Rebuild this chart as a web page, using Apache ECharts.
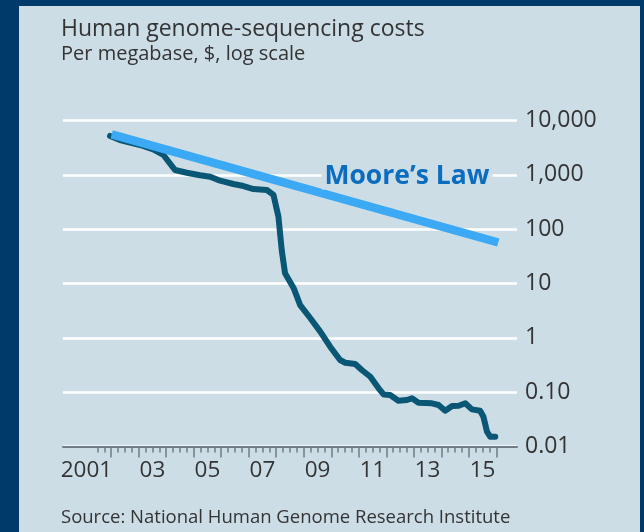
<!DOCTYPE html>
<html>
<head>
<meta charset="utf-8">
<script src="https://cdn.jsdelivr.net/npm/echarts@6/dist/echarts.min.js"></script>
<style>
  html, body { margin: 0; padding: 0; background: #003a6b; }
  #chart { width: 644px; height: 532px; }
</style>
</head>
<body>
<div id="chart"></div>
<script>
// ---- data ----
const costYears = [2001.96, 2002.32, 2003.05, 2003.53, 2003.90, 2004.32, 2004.75, 2005.23, 2005.60, 2005.96,
  2006.44, 2006.81, 2007.17, 2007.66, 2007.90, 2008.08, 2008.20, 2008.32, 2008.63, 2008.87,
  2009.24, 2009.60, 2009.96, 2010.32, 2010.51, 2010.87, 2011.11, 2011.42, 2011.72, 2011.90,
  2012.14, 2012.44, 2012.75, 2012.93, 2013.17, 2013.66, 2013.90, 2014.14, 2014.39, 2014.63,
  2014.87, 2015.11, 2015.41, 2015.53, 2015.66, 2015.78, 2015.96];
const costValues = [5190, 4375, 3540, 2950, 2317, 1227, 1094, 980, 924, 780,
  678, 622, 548, 526, 426, 169, 41, 15.4, 8.3, 4.0,
  2.29, 1.30, 0.687, 0.391, 0.348, 0.330, 0.256, 0.192, 0.118, 0.091,
  0.0887, 0.0697, 0.0718, 0.077, 0.064, 0.0624, 0.058, 0.0456, 0.0556, 0.0563,
  0.0624, 0.0483, 0.0456, 0.0353, 0.0187, 0.0151, 0.0151];
const mooreYears = [2002.02, 2016.07];
const mooreValues = [5570, 56.9];
const mooreLabel = { year: 2012.75, value: 950, text: 'Moore\u2019s Law' };

const xLabelYears = [2001.5, 2003.5, 2005.5, 2007.5, 2009.5, 2011.5, 2013.5, 2015.5];
const xLabelTexts = ['2001', '03', '05', '07', '09', '11', '13', '15'];
const yTickValues = [0.01, 0.1, 1, 10, 100, 1000, 10000];
const yTickLabels = ['0.01', '0.10', '1', '10', '100', '1,000', '10,000'];

const titleText = 'Human genome-sequencing costs';
const subtitleText = 'Per megabase, $, log scale';
const sourceText = 'Source: National Human Genome Research Institute';

// ---- derived tick positions ----
const yearTicks = [];
for (let y = 2002; y <= 2016; y++) yearTicks.push(y);
const quarterTicks = [];
for (let q = 2001.5; q < 2016; q += 0.25) {
  if (Math.abs(q - Math.round(q)) > 0.01) quarterTicks.push(q);
}

const FONT = 'Open Sans';
const TXT = '#333333';
const PANEL = '#cddde6';

const chart = echarts.init(document.getElementById('chart'));
chart.setOption({
  backgroundColor: '#003a6b',
  animation: false,
  graphic: [
    { type: 'rect', z: -100, silent: true, shape: { x: 19, y: 6, width: 621, height: 526 },
      style: { fill: PANEL } }
  ],
  title: [
    { text: titleText, left: 61, top: 18, padding: 0,
      textStyle: { fontFamily: FONT, fontSize: 23, fontWeight: 'normal', color: TXT } },
    { text: subtitleText, left: 61, top: 44, padding: 0,
      textStyle: { fontFamily: FONT, fontSize: 20, fontWeight: 'normal', color: TXT } },
    { text: sourceText, left: 61, top: 508, padding: 0,
      textStyle: { fontFamily: FONT, fontSize: 18.5, fontWeight: 'normal', color: TXT } }
  ],
  grid: { left: 63, right: 127, top: 120.5, bottom: 85.5, containLabel: false },
  xAxis: [
    {
      type: 'value', min: 2000.25, max: 2016.75,
      axisLine: { show: true, lineStyle: { color: '#6f7c85', width: 2 } },
      axisTick: { show: true, customValues: yearTicks, length: 11, lineStyle: { color: '#6f7c85', width: 1.5 } },
      axisLabel: {
        show: true, customValues: xLabelYears, margin: 13,
        fontFamily: FONT, fontSize: 22.5, color: TXT,
        formatter: function (v) {
          const i = xLabelYears.findIndex(function (t) { return Math.abs(t - v) < 1e-6; });
          const t = i >= 0 ? xLabelTexts[i] : '';
          return i === 0 ? '{s|' + t + '}' : t;
        },
        rich: { s: { fontFamily: FONT, fontSize: 22.5, color: TXT, padding: [0, 22, 0, 0] } }
      },
      splitLine: { show: false }
    },
    {
      type: 'value', min: 2000.25, max: 2016.75, position: 'bottom',
      axisLine: { show: false },
      axisTick: { show: true, customValues: quarterTicks, length: 6, lineStyle: { color: '#6f7c85', width: 1.5 } },
      axisLabel: { show: false },
      splitLine: { show: false }
    }
  ],
  yAxis: {
    type: 'log', logBase: 10, min: 0.01, max: 10000, position: 'right',
    axisLine: { show: false },
    axisTick: { show: false },
    axisLabel: {
      margin: 8, fontFamily: FONT, fontSize: 23, color: TXT,
      formatter: function (v) {
        const i = yTickValues.findIndex(function (t) { return Math.abs(Math.log10(t) - Math.log10(v)) < 1e-6; });
        return i >= 0 ? yTickLabels[i] : '';
      }
    },
    splitLine: { show: true, lineStyle: { color: '#ffffff', width: 2.5 } }
  },
  series: [
    {
      type: 'line', xAxisIndex: 0, showSymbol: false, symbol: 'none',
      data: costYears.map(function (y, i) { return [y, costValues[i]]; }),
      lineStyle: { color: '#0a5675', width: 6, cap: 'round', join: 'round' },
      z: 3
    },
    {
      type: 'line', xAxisIndex: 0, showSymbol: false, symbol: 'none',
      data: mooreYears.map(function (y, i) { return [y, mooreValues[i]]; }),
      lineStyle: { color: '#3ca9f4', width: 8.5, cap: 'butt' },
      z: 4,
      markPoint: {
        symbol: 'circle', symbolSize: 0, silent: true,
        data: [{ coord: [mooreLabel.year, mooreLabel.value] }],
        label: {
          show: true, position: 'inside', formatter: mooreLabel.text,
          fontFamily: FONT, fontSize: 26.5, fontWeight: 'bold', color: '#0a6dbf',
          backgroundColor: PANEL, padding: [0, 3]
        }
      }
    }
  ]
});
</script>
</body>
</html>
